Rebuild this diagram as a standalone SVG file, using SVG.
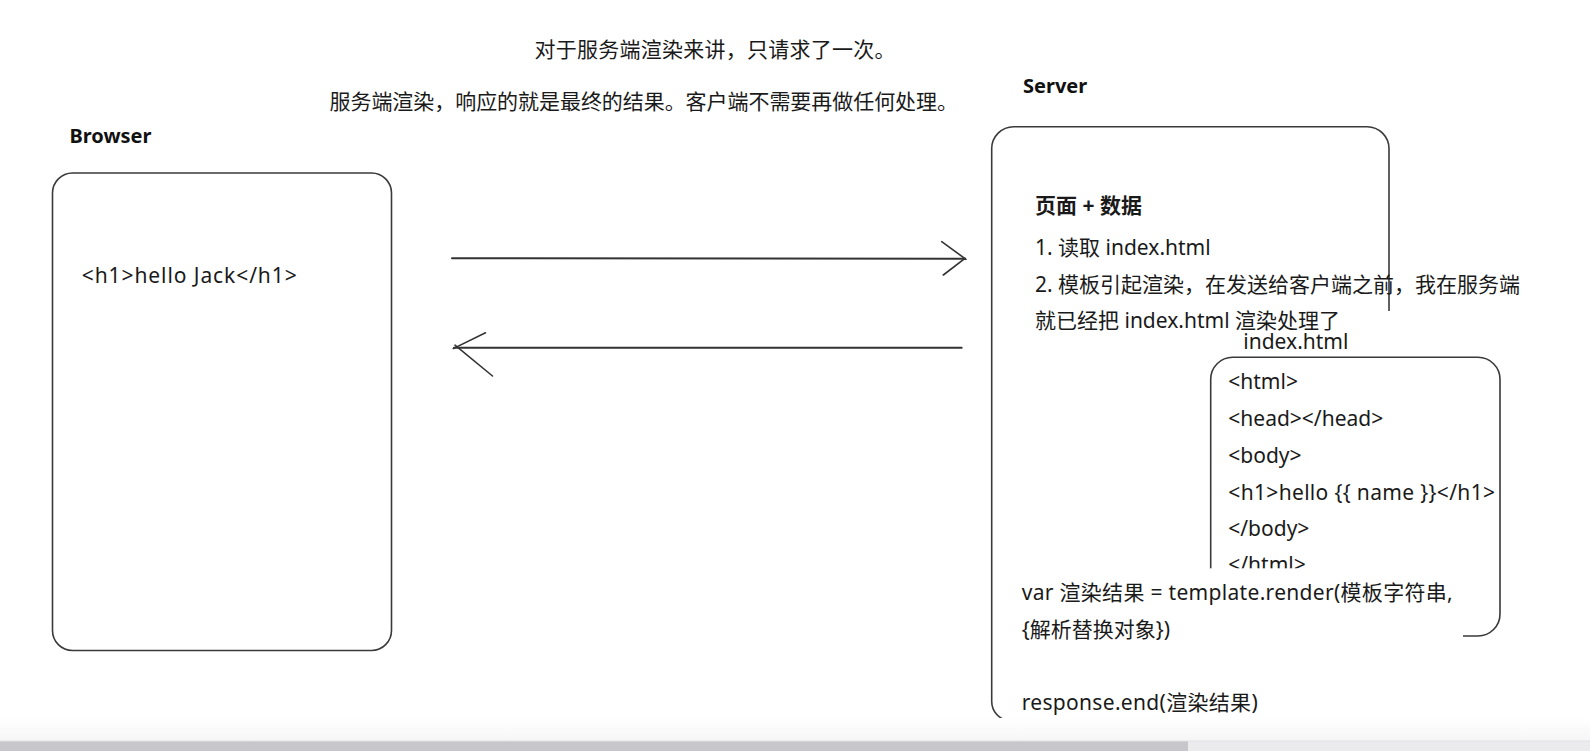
<svg xmlns="http://www.w3.org/2000/svg" width="1590" height="751" viewBox="0 0 1590 751">
  <defs>
    <style>
      .t { font-family: "Noto Sans", "Noto Sans CJK SC", sans-serif; font-size: 21px; fill: #1a1a1a; }
      .b { font-family: "Noto Sans", "Noto Sans CJK SC", sans-serif; font-size: 20px; font-weight: bold; fill: #111; }
      .bx { fill: none; stroke: #3a3a3a; stroke-width: 1.6; }
      .ln { fill: none; stroke: #333; stroke-width: 2; stroke-linecap: round; }
      .hd { fill: none; stroke: #333; stroke-width: 1.6; stroke-linecap: round; }
    </style>
    <linearGradient id="fade" x1="0" y1="0" x2="0" y2="1">
      <stop offset="0" stop-color="#ffffff"/>
      <stop offset="1" stop-color="#f6f6f6"/>
    </linearGradient>
  </defs>
  <rect x="0" y="0" width="1590" height="751" fill="#ffffff"/>

  <g id="title">
    <text class="t" x="534.5" y="56.5" textLength="361">对于服务端渲染来讲，只请求了一次。</text>
    <text class="t" x="329.5" y="108.5" textLength="628.5">服务端渲染，响应的就是最终的结果。客户端不需要再做任何处理。</text>
  </g>

  <g id="browser">
    <text class="b" x="69.5" y="143.3">Browser</text>
    <rect class="bx" x="52.5" y="173" width="339" height="477.5" rx="20" ry="20"/>
    <text class="t" x="81.7" y="283.3" textLength="215">&lt;h1&gt;hello Jack&lt;/h1&gt;</text>
  </g>

  <g id="connectors">
    <g id="request">
      <line class="ln" x1="452" y1="258.3" x2="965" y2="258.8"/>
      <path class="hd" d="M941.7 241.7 L966 259.3 M943.3 275 L965 258.3"/>
    </g>
    <g id="response">
      <line class="ln" x1="454" y1="347.7" x2="961.7" y2="347.7"/>
      <path class="hd" d="M485.5 332.8 L453.2 348.6 M455 345.2 L492.5 376"/>
    </g>
  </g>

  <g id="server">
    <text class="b" x="1023" y="92.7">Server</text>
    <path class="bx" d="M1389 311 V148.7 A22 22 0 0 0 1367 126.7 H1013.7 A22 22 0 0 0 991.7 148.7 V701 A20 20 0 0 0 1009 721"/>
    <text class="t" x="1035" y="213.3" style="font-weight:bold">页面 + 数据</text>
    <text class="t" x="1035" y="255">1. 读取 index.html</text>
    <text class="t" x="1035" y="291.7">2. 模板引起渲染，在发送给客户端之前，我在服务端</text>
    <text class="t" x="1035" y="328.3">就已经把 index.html 渲染处理了</text>
  </g>

  <g id="index-html">
    <text class="t" x="1243.3" y="349.3">index.html</text>
    <rect class="bx" x="1210.7" y="357.3" width="289.3" height="278.7" rx="22" ry="22"/>
    <text class="t" x="1228.3" y="389.3">&lt;html&gt;</text>
    <text class="t" x="1228.3" y="426">&lt;head&gt;&lt;/head&gt;</text>
    <text class="t" x="1228.3" y="462.7">&lt;body&gt;</text>
    <text class="t" x="1228.3" y="500" textLength="266.7">&lt;h1&gt;hello {{ name }}&lt;/h1&gt;</text>
    <text class="t" x="1228.3" y="535.5">&lt;/body&gt;</text>
    <text class="t" x="1228.3" y="572">&lt;/html&gt;</text>
  </g>

  <g id="render-code">
    <rect x="1000" y="568.3" width="463" height="80" fill="#ffffff"/>
    <text class="t" x="1021.7" y="600" textLength="431">var 渲染结果 = template.render(模板字符串,</text>
    <text class="t" x="1021.7" y="636.7">{解析替换对象})</text>
    <text class="t" x="1021.7" y="710" textLength="236">response.end(渲染结果)</text>
  </g>

  <g id="bottom-bar">
    <rect x="0" y="718" width="1590" height="23" fill="url(#fade)"/>
    <rect x="0" y="741" width="1188" height="10" fill="#c7c6ca"/>
    <rect x="1188" y="741" width="402" height="10" fill="#ebebee"/>
    <line x1="0" y1="741" x2="1590" y2="741" stroke="#e2e2e4" stroke-width="1"/>
  </g>
</svg>
